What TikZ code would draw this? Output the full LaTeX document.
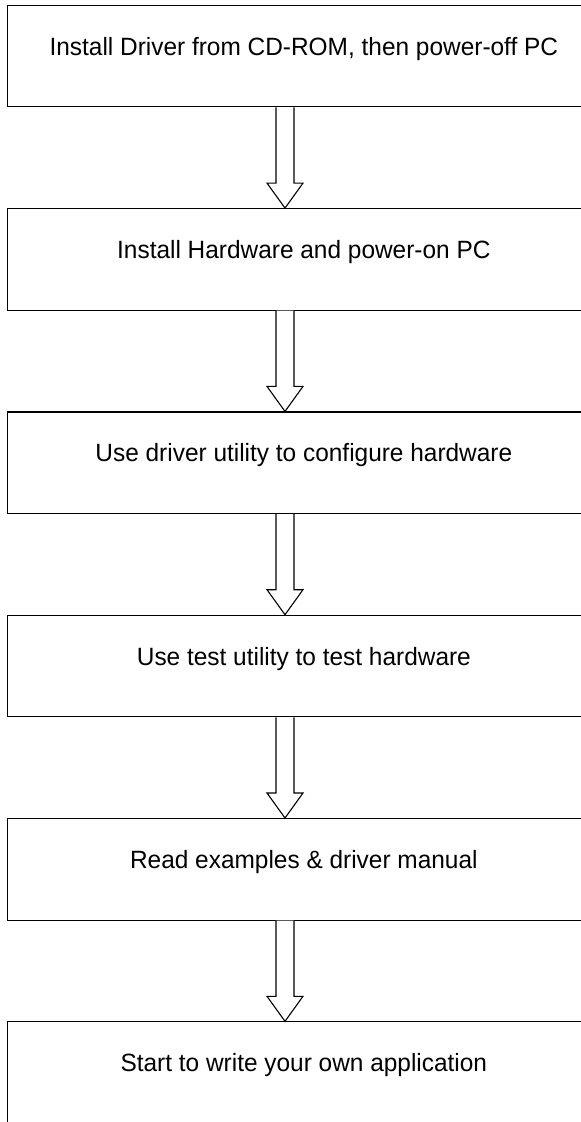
\documentclass[tikz,border=0pt]{standalone}
\usepackage{fontspec}
\setmainfont{Liberation Sans}
\newfontfamily\boxfont[FakeStretch=0.977]{Liberation Sans}
\usetikzlibrary{positioning,calc}
\tikzset{
  stepbox/.style={draw, line width=1.1pt, rectangle, minimum width=592pt, inner ysep=0pt,
    text height=50pt, text depth=51.5pt, font=\boxfont\fontsize{25}{30}\selectfont},
  flowarrow/.style={draw, line width=1.1pt, fill=white}
}
\newcommand{\steparrow}[2]{
\draw[flowarrow] ($(#1.south west)+(268.7,0)$) -- ($(#2.north west)+(268.7,25)$) -- ++(-9,0)
  -- ($(#2.north west)+(277.7,0)$) -- ($(#2.north west)+(295.7,25)$) -- ++(-9,0)
  -- ($(#1.south west)+(286.7,0)$);
}
\begin{document}
\begin{tikzpicture}[x=1pt,y=1pt,node distance=100.7pt]
\useasboundingbox (0,0) rectangle (581,-1122);

\node[stepbox, anchor=north west] (driver) at (7.3,-4.8) {Install Driver from CD-ROM, then power-off PC};
\node[stepbox, below=of driver] (hardware) {Install Hardware and power-on PC};
\node[stepbox, below=of hardware] (config) {Use driver utility to configure hardware};
\node[stepbox, below=of config] (test) {Use test utility to test hardware};
\node[stepbox, below=of test] (manual) {Read examples \& driver manual};
\node[stepbox, below=of manual] (app) {Start to write your own application};

\steparrow{driver}{hardware}
\steparrow{hardware}{config}
\steparrow{config}{test}
\steparrow{test}{manual}
\steparrow{manual}{app}

\end{tikzpicture}
\end{document}
